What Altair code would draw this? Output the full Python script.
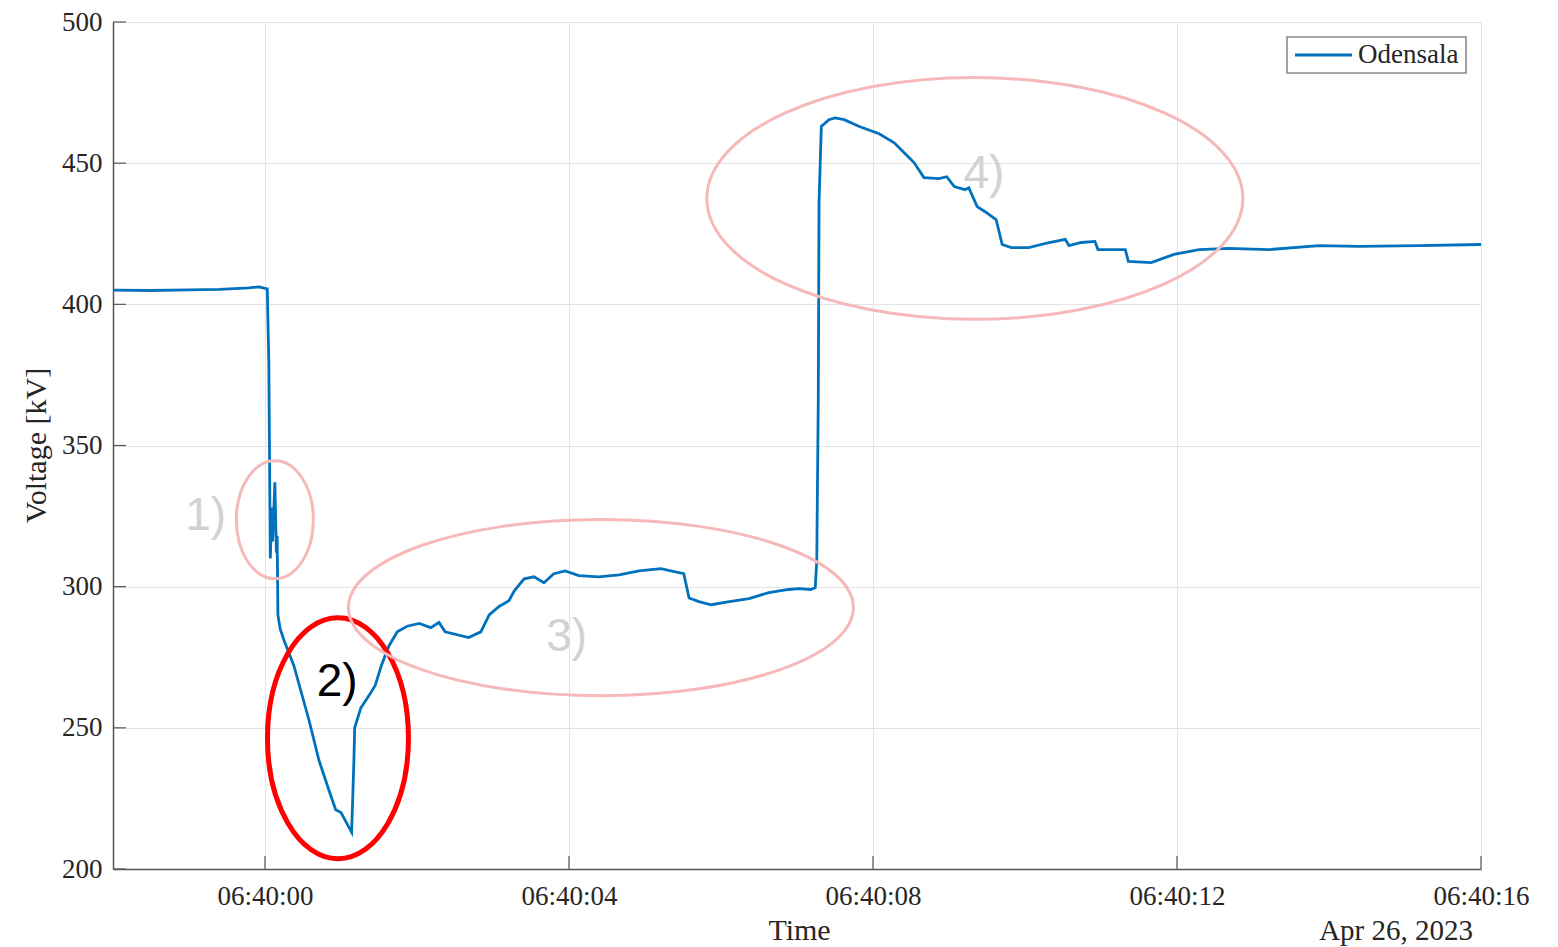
import altair as alt
import pandas as pd

# ---- data (seconds relative to 06:40:00, Apr 26 2023) ----
t_sec = [-2.0, -1.5, -1.0, -0.6, -0.21, -0.08, 0.03, 0.05, 0.07, 0.09, 0.10, 0.13, 0.15, 0.16, 0.17,
         0.20, 0.25, 0.38, 0.58, 0.71, 0.84, 0.93, 1.0, 1.05, 1.14, 1.17, 1.18, 1.26, 1.37, 1.45,
         1.53, 1.63, 1.74, 1.87, 2.03, 2.18, 2.29, 2.37, 2.68, 2.84, 2.95, 3.08, 3.21, 3.28, 3.41,
         3.54, 3.67, 3.80, 3.95, 4.13, 4.39, 4.66, 4.92, 5.21, 5.34, 5.51, 5.58, 5.71, 5.87, 6.11,
         6.37, 6.63, 6.89, 7.03, 7.18, 7.24, 7.26, 7.28, 7.29, 7.32, 7.42, 7.5, 7.62, 7.82, 8.08,
         8.28, 8.41, 8.54, 8.67, 8.87, 8.97, 9.07, 9.21, 9.26, 9.37, 9.47, 9.62, 9.70, 9.82, 10.05,
         10.32, 10.53, 10.58, 10.74, 10.92, 10.96, 11.32, 11.36, 11.66, 11.96, 12.29, 12.68, 13.21,
         13.87, 14.39, 15.18, 16.0]
voltage_kv = [405.0, 404.9, 405.1, 405.3, 405.8, 406.2, 405.5, 380.0, 310.0, 328.0, 316.0, 337.0, 312.0, 318.0, 290.0,
              285.0, 281.0, 272.0, 252.6, 238.5, 228.0, 221.0, 220.0, 217.5, 213.0, 238.5, 250.0, 257.0, 261.5, 265.0,
              272.0, 279.0, 284.0, 286.0, 287.0, 285.5, 287.3, 284.0, 282.0, 284.0, 290.0, 293.0, 295.0, 298.5, 302.8,
              303.5, 301.4, 304.6, 305.6, 303.9, 303.5, 304.2, 305.6, 306.4, 305.6, 304.6, 296.0, 294.7, 293.6, 294.7,
              295.8, 297.9, 299.0, 299.3, 299.0, 299.6, 309.0, 366.0, 436.0, 463.0, 465.4, 466.0, 465.4, 463.0, 460.4,
              457.2, 453.7, 450.2, 444.9, 444.5, 445.2, 441.7, 440.6, 441.3, 434.6, 432.9, 430.0, 421.2, 420.1, 420.1,
              421.9, 423.0, 420.8, 421.9, 422.3, 419.4, 419.4, 415.2, 414.8, 417.7, 419.4, 419.8, 419.4,
              420.8, 420.5, 420.8, 421.2]
series_name = "Odensala"

x_ticks = [0, 4, 8, 12, 16]
y_ticks = [200, 250, 300, 350, 400, 450, 500]

# annotations: label, centre (t, kV)
ann_labels = ["1)", "2)", "3)", "4)"]
ann_label_t = [-0.78, 0.95, 3.97, 9.46]
ann_label_v = [325.1, 266.1, 282.3, 446.3]
ell_t = [0.13, 0.96, 4.42, 9.34]
ell_v = [323.7, 246.3, 292.6, 437.5]

date_label = "Apr 26, 2023"

W, H = 1368, 847
SERIF = "Liberation Serif"
SANS = "Liberation Sans"
BLUE = "#0072BD"

df = pd.DataFrame({"t": t_sec, "v": voltage_kv, "series": series_name})

xs = alt.Scale(domain=[-2, 16], nice=False, zero=False)
ys = alt.Scale(domain=[200, 500], nice=False, zero=False)

label_expr = "'06:40:' + (datum.value < 10 ? '0' : '') + datum.value"

line = alt.Chart(df).mark_line(strokeWidth=2.8, interpolate="linear", color=BLUE).encode(
    x=alt.X("t:Q", scale=xs,
            axis=alt.Axis(values=x_ticks, labelExpr=label_expr, title="Time", labelFlush=False,
                          titleX=686, titleY=61, titleBaseline="middle", titleAlign="center",
                          titleFontSize=30, labelPadding=14)),
    y=alt.Y("v:Q", scale=ys,
            axis=alt.Axis(values=y_ticks, title="Voltage [kV]", titleX=-77, titleY=423,
                          titleAngle=270, titleAlign="center", titleBaseline="middle", labelFlush=False,
                          titleFontSize=30, labelPadding=11)),
    detail="series:N",
)

ell_df = pd.DataFrame({"t": ell_t, "v": ell_v, "i": [0, 1, 2, 3]})

ellipse_specs = [
    (0, "M -0.653 0 A 0.653 1 0 1 1 0.653 0 A 0.653 1 0 1 1 -0.653 0 Z", 13924, "#f6b8b8", 3),
    (1, "M -0.585 0 A 0.585 1 0 1 1 0.585 0 A 0.585 1 0 1 1 -0.585 0 Z", 58081, "#ff0000", 5),
    (2, "M -1 0 A 1 0.349 0 1 1 1 0 A 1 0.349 0 1 1 -1 0 Z", 255025, "#f6b8b8", 3),
    (3, "M -1 0 A 1 0.451 0 1 1 1 0 A 1 0.451 0 1 1 -1 0 Z", 287296, "#f6b8b8", 3),
]

ell_layers = []
for idx, path, size, col, sw in ellipse_specs:
    ell_layers.append(
        alt.Chart(ell_df).transform_filter(alt.datum.i == idx).mark_point(
            shape=path, size=size, filled=False, color=col, strokeWidth=sw, opacity=1
        ).encode(x=alt.X("t:Q", scale=xs), y=alt.Y("v:Q", scale=ys))
    )

lab_df = pd.DataFrame({"t": ann_label_t, "v": ann_label_v, "lab": ann_labels,
                       "c": ["g", "k", "g", "g"]})
labels = alt.Chart(lab_df).mark_text(font=SANS, fontSize=46, baseline="middle", align="center").encode(
    x=alt.X("t:Q", scale=xs), y=alt.Y("v:Q", scale=ys), text="lab:N",
    color=alt.Color("c:N", scale=alt.Scale(domain=["g", "k"], range=["#d2d2d2", "#000000"]), legend=None),
)

xt = alt.Chart(pd.DataFrame({"t": x_ticks})).mark_rule(color="#555555", strokeWidth=1.2).encode(
    x=alt.X("t:Q", scale=xs), y=alt.value(H), y2=alt.value(H - 13))
yt = alt.Chart(pd.DataFrame({"v": y_ticks})).mark_rule(color="#555555", strokeWidth=1.2).encode(
    y=alt.Y("v:Q", scale=ys), x=alt.value(0), x2=alt.value(13))

date_txt = alt.Chart(pd.DataFrame({"d": [date_label]})).mark_text(
    font=SERIF, fontSize=29, align="right", baseline="alphabetic", color="#262626"
).encode(x=alt.value(1360), y=alt.value(918), text="d:N")

# legend box drawn by hand
leg_df = pd.DataFrame({"name": [series_name]})
leg_box = alt.Chart(leg_df).mark_rect(fill="white", stroke="#8a8a8a", strokeWidth=1.6).encode(
    x=alt.value(1174), x2=alt.value(1353), y=alt.value(15), y2=alt.value(51))
leg_line = alt.Chart(leg_df).mark_rule(color=BLUE, strokeWidth=3).encode(
    x=alt.value(1182), x2=alt.value(1239), y=alt.value(33))
leg_text = alt.Chart(leg_df).mark_text(font=SERIF, fontSize=27, align="left", baseline="middle",
                                       color="#262626").encode(
    x=alt.value(1245), y=alt.value(33), text="name:N")

chart = alt.layer(line, *ell_layers, labels, xt, yt, date_txt, leg_box, leg_line, leg_text).properties(
    width=W, height=H,
    autosize=alt.AutoSizeParams(type="none"),
    padding={"left": 105, "top": 14, "right": 52, "bottom": 78},
).configure_view(stroke=None).configure_axis(
    grid=True, gridColor="#e4e4e4", gridWidth=1, domainColor="#555555", domainWidth=1.5,
    ticks=False, labelFont=SERIF, labelFontSize=27, labelColor="#262626",
    titleFont=SERIF, titleColor="#262626", titleFontWeight="normal",
)

chart.save("out.html", embed_options={"renderer": "svg", "actions": False})
